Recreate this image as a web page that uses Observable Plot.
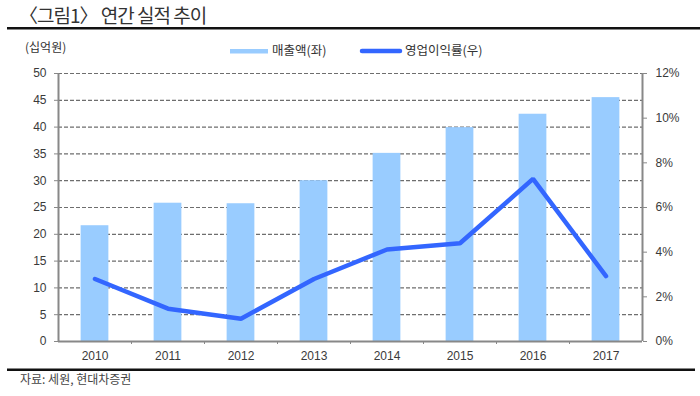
<!DOCTYPE html>
<html><head><meta charset="utf-8">
<script src="https://cdn.jsdelivr.net/npm/d3@7"></script>
<script src="https://cdn.jsdelivr.net/npm/@observablehq/plot@0.6"></script>
<style>
body{margin:0;background:#fff;}
#wrap{position:relative;width:700px;height:396px;}
</style></head><body><div id="wrap"></div>
<script>
const years = ["2010","2011","2012","2013","2014","2015","2016","2017"];
const sales = [21.6, 25.8, 25.7, 30.0, 35.1, 39.9, 42.4, 45.5];
const opMargin = [2.8, 1.47, 1.02, 2.8, 4.12, 4.4, 7.28, 2.93];
const leftTicks = [0,5,10,15,20,25,30,35,40,45,50];
const rightTicks = [0,2,4,6,8,10,12];
const titleText = "〈그림1〉 연간 실적 추이";
const unitText = "(십억원)";
const salesLabel = "매출액(좌)";
const marginLabel = "영업이익률(우)";
const sourceText = "자료: 세원, 현대차증권";

const k = 50/12;
const data = years.map((y,i)=>({i, year:y, sales:sales[i], m:opMargin[i]}));
const latin = "'Liberation Sans', Arial, sans-serif";
const kr = "'Noto Sans CJK KR', sans-serif";

const chart = Plot.plot({
  width:700, height:396,
  marginTop:73, marginBottom:55, marginLeft:58, marginRight:58,
  x:{type:"linear", domain:[-0.5, years.length-0.5]},
  y:{domain:[0,50]},
  style:{fontFamily:latin, fontSize:"12px", color:"#3a3a3a", background:"white"},
  marks:[
    Plot.gridY(leftTicks.filter(v=>v>0), {stroke:"#6e6e6e", strokeOpacity:1, strokeDasharray:"4,2", strokeWidth:1.2}),
    Plot.rectY(data, {x1:d=>d.i-0.19, x2:d=>d.i+0.19, y1:0, y2:"sales", fill:"#99ccff"}),
    Plot.ruleX([-0.5, years.length-0.5], {stroke:"#888", strokeWidth:2}),
    Plot.ruleY([0], {stroke:"#888", strokeWidth:2}),
    Plot.axisY(leftTicks, {anchor:"left", tickSize:4, tickPadding:8, stroke:"#888", label:null}),
    Plot.axisY(rightTicks.map(v=>v*k), {anchor:"right", tickSize:4, tickPadding:9, stroke:"#888", tickFormat:d=>Math.round(d/k)+"%", label:null}),
    Plot.axisX(data.map(d=>d.i), {tickSize:0, tickPadding:10, tickFormat:i=>years[i], label:null}),
    Plot.axisX(d3.range(0.5, years.length-1, 1), {tickSize:3, stroke:"#888", tickFormat:()=>"", label:null}),
    Plot.lineY(data, {x:"i", y:d=>d.m*k, stroke:"#3366ff", strokeWidth:4.5, strokeLinecap:"round", strokeLinejoin:"miter"})
  ]
});
document.getElementById("wrap").appendChild(chart);

const svg = d3.select(chart);
const ann = svg.append("g").attr("text-anchor","start");
function txt(x, y, size, fill, s, ls){
  const t = ann.append("text").attr("x",x).attr("y",y).attr("text-anchor","start")
    .attr("font-family",kr).attr("font-size",size).attr("fill",fill).text(s);
  if (ls) t.attr("letter-spacing", ls);
}
txt(19, 23, 19, "#333", titleText, -1);
ann.append("rect").attr("x",7).attr("y",27).attr("width",693).attr("height",2.5).attr("fill","#111");
txt(25, 52, 12, "#333", unitText);
ann.append("rect").attr("x",230).attr("y",49).attr("width",38).attr("height",4.5).attr("fill","#99ccff");
txt(272, 55, 12.5, "#333", salesLabel);
ann.append("line").attr("x1",362).attr("x2",400).attr("y1",51).attr("y2",51).attr("stroke","#3366ff").attr("stroke-width",4.5).attr("stroke-linecap","round");
txt(405, 55, 12.5, "#333", marginLabel);
ann.append("rect").attr("x",7).attr("y",368.5).attr("width",688).attr("height",2.5).attr("fill","#111");
txt(20, 384, 12, "#444", sourceText);
</script></body></html>
